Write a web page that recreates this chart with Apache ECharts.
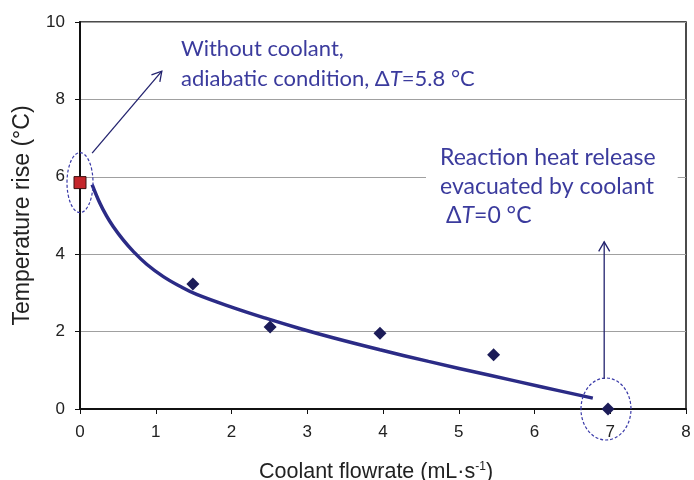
<!DOCTYPE html>
<html>
<head>
<meta charset="utf-8">
<script src="https://cdn.jsdelivr.net/npm/echarts@6/dist/echarts.min.js"></script>
<style>
  html, body { margin: 0; padding: 0; background: #fff; }
</style>
</head>
<body>
<div id="chart" style="width:694px;height:480px"></div>
<script>
  // measured points (coolant flowrate, temperature rise)
  var adiabaticPoint = [[0, 5.85]]
  var measuredPoints = [[1.49, 3.23], [2.51, 2.12], [3.96, 1.96], [5.46, 1.40], [6.97, 0]]
  // fitted curve
  var fitX = [0.16, 0.26, 0.35, 0.44, 0.57, 0.70, 0.88, 1.10, 1.32, 1.54, 2.02, 2.46, 2.90, 3.34, 3.96, 4.60, 5.41, 6.10, 6.77]
  var fitY = [5.80, 5.33, 4.99, 4.71, 4.37, 4.08, 3.74, 3.42, 3.17, 2.96, 2.62, 2.34, 2.08, 1.84, 1.53, 1.23, 0.87, 0.57, 0.28]
  var xTicks = [0, 1, 2, 3, 4, 5, 6, 7, 8]

  var fitData = fitX.map(function (x, i) { return [x, fitY[i]] })
  var navy = '#2b2b86'
  var textBlue = '#3b3b9d'

  var chart = echarts.init(document.getElementById('chart'))
  var option = {
    animation: false,
    grid: {
      left: 80, right: 8, top: 22, bottom: 71, outerBoundsMode: 'none',
      show: true, borderColor: '#111', borderWidth: 1.5
    },
    xAxis: {
      type: 'value', min: 0, max: 8, interval: 1,
      name: 'Coolant flowrate (mL·s{sup|-1})',
      nameLocation: 'middle', nameGap: 52,
      nameTextStyle: {
        fontFamily: 'Liberation Sans', fontSize: 21.5, color: '#222', padding: [0, 14, 0, 0],
        rich: { sup: { fontSize: 12, verticalAlign: 'top', padding: [0, 0, 10, 0], color: '#222', fontFamily: 'Liberation Sans' } }
      },
      axisLine: { show: true, lineStyle: { color: '#111', width: 2 } },
      axisTick: { show: true, length: 5, lineStyle: { color: '#111' } },
      axisLabel: {
        fontFamily: 'Liberation Sans', fontSize: 17, color: '#222', margin: 15,
        formatter: function (v) { return xTicks.indexOf(v) >= 0 ? String(v) : '' }
      },
      splitLine: { show: false }
    },
    yAxis: {
      type: 'value', min: 0, max: 10, interval: 2,
      name: 'Temperature rise (°C)',
      nameLocation: 'middle', nameGap: 46,
      nameTextStyle: { fontFamily: 'Liberation Sans', fontSize: 23, color: '#222' },
      axisLine: { show: true, lineStyle: { color: '#111', width: 2 } },
      axisTick: { show: true, length: 5, lineStyle: { color: '#111' } },
      axisLabel: { fontFamily: 'Liberation Sans', fontSize: 17, color: '#222', margin: 15 },
      splitLine: { show: true, lineStyle: { color: '#a0a0a0', width: 1.2 } }
    },
    series: [
      {
        name: 'fit', type: 'line', data: fitData, smooth: 0.4, showSymbol: false,
        lineStyle: { color: navy, width: 3.5 }, z: 3
      },
      {
        name: 'measured', type: 'scatter', data: measuredPoints, symbol: 'diamond', symbolSize: 13,
        itemStyle: { color: '#1c1c58', opacity: 1 }, z: 4
      },
      {
        name: 'adiabatic', type: 'scatter', data: adiabaticPoint, symbol: 'rect', symbolSize: 12,
        itemStyle: { color: '#c4262b', borderColor: '#3a1010', borderWidth: 1, opacity: 1 }, z: 5
      }
    ]
  }
  chart.setOption(option)

  function px (x, y) { return chart.convertToPixel({ gridIndex: 0 }, [x, y]) }
  function arrowHead (tip, from, len) {
    var dx = tip[0] - from[0], dy = tip[1] - from[1]
    var d = Math.sqrt(dx * dx + dy * dy)
    var ux = dx / d, uy = dy / d
    var a = Math.PI / 6
    var p1 = [tip[0] - len * (ux * Math.cos(a) - uy * Math.sin(a)), tip[1] - len * (uy * Math.cos(a) + ux * Math.sin(a))]
    var p2 = [tip[0] - len * (ux * Math.cos(a) + uy * Math.sin(a)), tip[1] - len * (uy * Math.cos(a) - ux * Math.sin(a))]
    return [p1, tip, p2]
  }

  var e1 = px(0, 5.85), e2 = px(6.97, 0)
  var a1s = px(0.16, 6.61), a1e = px(1.08, 8.73)
  var a2s = px(6.92, 0.78), a2e = px(6.92, 4.32)

  chart.setOption({
    graphic: [
      {
        type: 'text', left: 426, top: 141, z: 9,
        style: {
          text: 'Reaction heat release\nevacuated by coolant\n {d|Δ}{i|T}=0 °C',
          fill: textBlue, fontFamily: 'Lato', fontSize: 23, lineHeight: 29,
          backgroundColor: '#fff', padding: [2, 22, 2, 14],
          rich: {
            d: { fill: textBlue, fontFamily: 'Lato', fontSize: 23 },
            i: { fill: textBlue, fontFamily: 'Lato', fontSize: 23, fontStyle: 'italic' }
          }
        }
      },
      { type: 'ellipse', shape: { cx: e1[0], cy: e1[1], rx: 13, ry: 30 },
        style: { fill: null, stroke: '#3a3aa8', lineWidth: 1.2, lineDash: [3, 2] }, z: 10 },
      { type: 'ellipse', shape: { cx: e2[0] - 2, cy: e2[1], rx: 25, ry: 31 },
        style: { fill: null, stroke: '#3a3aa8', lineWidth: 1.2, lineDash: [3, 2] }, z: 10 },
      { type: 'polyline', shape: { points: [a1s, a1e] }, style: { stroke: '#23236e', lineWidth: 1.3 }, z: 10 },
      { type: 'polyline', shape: { points: arrowHead(a1e, a1s, 11) }, style: { stroke: '#23236e', lineWidth: 1.3, fill: null }, z: 10 },
      { type: 'polyline', shape: { points: [a2s, a2e] }, style: { stroke: '#23236e', lineWidth: 1.3 }, z: 10 },
      { type: 'polyline', shape: { points: arrowHead(a2e, a2s, 11) }, style: { stroke: '#23236e', lineWidth: 1.3, fill: null }, z: 10 },
      {
        type: 'text', left: 181, top: 34, z: 10,
        style: {
          text: 'Without coolant,\nadiabatic condition, {d|Δ}{i|T}=5.8 °C',
          fill: textBlue, fontFamily: 'Lato', fontSize: 22, lineHeight: 30,
          rich: {
            d: { fill: textBlue, fontFamily: 'Lato', fontSize: 22 },
            i: { fill: textBlue, fontFamily: 'Lato', fontSize: 22, fontStyle: 'italic' }
          }
        }
      }
    ]
  })
</script>
</body>
</html>
